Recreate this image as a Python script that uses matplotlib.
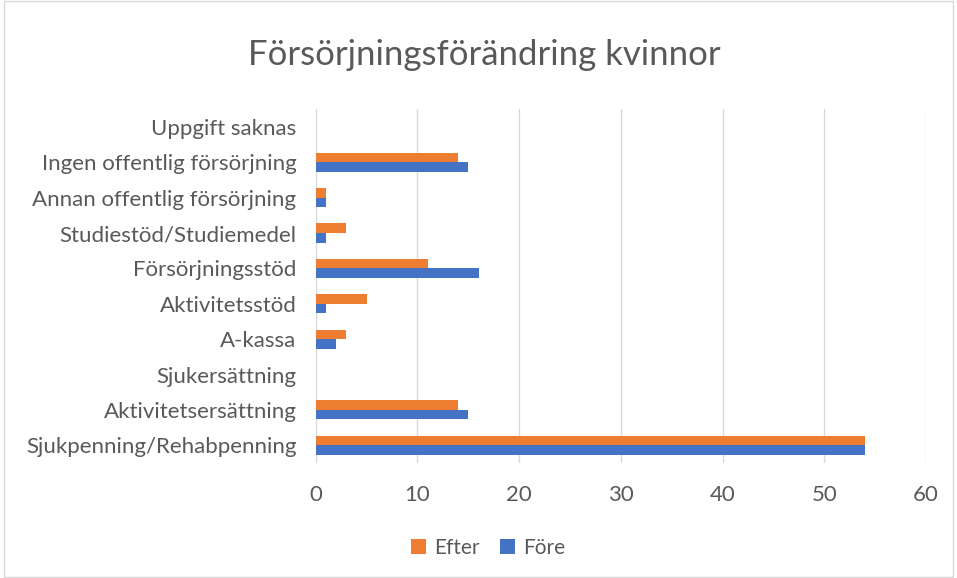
import matplotlib.pyplot as plt
import numpy as np
from matplotlib.patches import Rectangle

categories = ['Sjukpenning/Rehabpenning', 'Aktivitetsersättning', 'Sjukersättning',
              'A-kassa', 'Aktivitetsstöd', 'Försörjningsstöd', 'Studiestöd/Studiemedel',
              'Annan offentlig försörjning', 'Ingen offentlig försörjning', 'Uppgift saknas']
efter = [54, 14, 0, 3, 5, 11, 3, 1, 14, 0]
fore = [54, 15, 0, 2, 1, 16, 1, 1, 15, 0]
xticks = [0, 10, 20, 30, 40, 50, 60]

plt.rcParams['font.family'] = ['Lato', 'DejaVu Sans']
text_col = '#595959'

fig = plt.figure(figsize=(9.57, 5.78), dpi=100)
ax = fig.add_axes([0.330, 0.199, 0.6375, 0.612])

y = np.arange(len(categories))
h = 0.27
ax.barh(y + h / 2, efter, height=h, color='#ED7D31', label='Efter')
ax.barh(y - h / 2, fore, height=h, color='#4472C4', label='Före')

ax.set_xlim(0, 60)
ax.set_ylim(-0.5, len(categories) - 0.5)
ax.set_xticks(xticks)
ax.set_yticks(y)
ax.set_yticklabels(categories)
ax.tick_params(length=0, labelsize=16, colors=text_col)
ax.tick_params(axis='y', pad=14)
ax.tick_params(axis='x', pad=16)
ax.grid(axis='x', color='#d9d9d9', linewidth=1)
ax.set_axisbelow(True)
for s in ax.spines.values():
    s.set_visible(False)

fig.text(0.506, 0.905, 'Försörjningsförändring kvinnor', ha='center', va='center',
         fontsize=25, color=text_col)

handles, labels = ax.get_legend_handles_labels()
fig.legend(handles, labels, loc='center', bbox_to_anchor=(0.51, 0.052), ncol=2,
           frameon=False, fontsize=15, labelcolor=text_col, handlelength=0.7,
           handleheight=0.7, handletextpad=0.4, columnspacing=1.0)

fig.patches.append(Rectangle((0.004, 0.002), 0.992, 0.996, transform=fig.transFigure,
                             fill=False, edgecolor='#d9d9d9', linewidth=1))

fig.savefig('out.png', dpi=100)
